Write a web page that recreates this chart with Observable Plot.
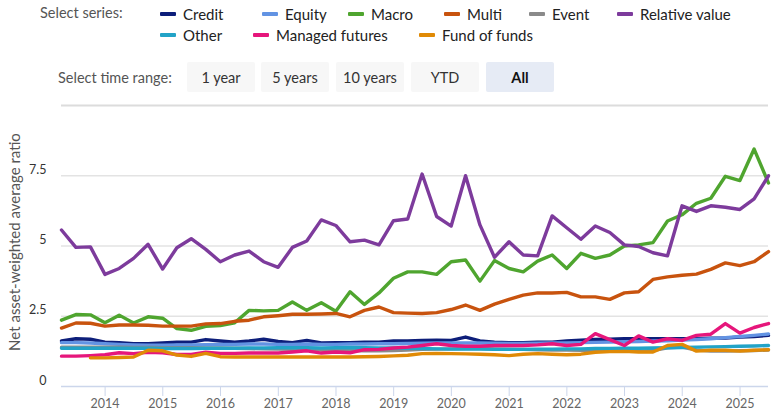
<!DOCTYPE html>
<html><head><meta charset="utf-8">
<script src="https://cdn.jsdelivr.net/npm/d3@7"></script>
<script src="https://cdn.jsdelivr.net/npm/@observablehq/plot@0.6"></script>
<style>
body{margin:0;background:#fff;font-family:Lato,"Noto Sans",sans-serif;}
#wrap{position:relative;width:778px;height:420px;overflow:hidden;}
.lbl{position:absolute;font-size:14.5px;color:#555;white-space:nowrap;transform:translateY(-50%);}
.item{position:absolute;display:flex;align-items:center;font-size:15px;color:#222;white-space:nowrap;transform:translateY(-50%);}
.sw{width:16px;height:4px;border-radius:1px;margin-right:7px;}
.btn{position:absolute;top:62px;height:30px;width:68px;background:#f7f7f7;border-radius:2px;font-size:14.5px;color:#333;display:flex;align-items:center;justify-content:center;}
.btn.sel{background:#e6ebf5;font-weight:bold;color:#111;}
#chart{position:absolute;left:0;top:96px;}
#ytitle{position:absolute;left:14px;top:242px;transform:translate(-50%,-50%) rotate(-90deg);font-size:15px;color:#555;white-space:nowrap;}
</style></head>
<body><div id="wrap"></div>
<script>
const quarters = ["2013-03-31","2013-06-30","2013-09-30","2013-12-31",
"2014-03-31","2014-06-30","2014-09-30","2014-12-31",
"2015-03-31","2015-06-30","2015-09-30","2015-12-31",
"2016-03-31","2016-06-30","2016-09-30","2016-12-31",
"2017-03-31","2017-06-30","2017-09-30","2017-12-31",
"2018-03-31","2018-06-30","2018-09-30","2018-12-31",
"2019-03-31","2019-06-30","2019-09-30","2019-12-31",
"2020-03-31","2020-06-30","2020-09-30","2020-12-31",
"2021-03-31","2021-06-30","2021-09-30","2021-12-31",
"2022-03-31","2022-06-30","2022-09-30","2022-12-31",
"2023-03-31","2023-06-30","2023-09-30","2023-12-31",
"2024-03-31","2024-06-30","2024-09-30","2024-12-31",
"2025-03-31","2025-06-30"];

const seriesNames = ["Credit","Equity","Macro","Multi","Event","Relative value","Other","Managed futures","Fund of funds"];
const seriesColors = ["#0d1e7a","#6293e3","#4fa52f","#c8530e","#8a8a8a","#7d3b9c","#22a3c7","#e6167b","#e08a06"];

const credit = [1.62,1.70,1.68,1.58,1.56,1.52,1.52,1.55,1.58,1.58,1.67,1.62,1.58,
1.62,1.68,1.60,1.56,1.64,1.55,1.56,1.56,1.58,1.58,1.62,1.62,
1.64,1.65,1.64,1.76,1.62,1.58,1.56,1.56,1.58,1.58,1.62,1.65,
1.67,1.68,1.70,1.70,1.70,1.70,1.70,1.70,1.72,1.72,1.76,1.78,1.82];
const equity = [1.56,1.56,1.55,1.52,1.50,1.48,1.47,1.47,1.48,1.48,1.49,1.50,1.50,
1.51,1.51,1.50,1.50,1.51,1.50,1.50,1.51,1.51,1.52,1.52,1.53,
1.54,1.55,1.55,1.55,1.55,1.54,1.53,1.53,1.54,1.55,1.55,1.56,
1.57,1.58,1.59,1.60,1.62,1.63,1.65,1.67,1.70,1.74,1.78,1.82,1.87];
const macro = [2.36,2.56,2.55,2.27,2.54,2.26,2.48,2.43,2.06,2.00,2.14,2.17,2.27,2.71,2.69,2.71,
3.01,2.71,2.98,2.68,3.37,2.92,3.33,3.85,4.08,4.08,3.99,4.44,4.50,3.75,4.48,4.20,
4.08,4.46,4.68,4.20,4.74,4.56,4.68,5.00,5.04,5.12,5.89,6.11,6.52,6.70,7.48,7.33,8.45,7.24];
const multi = [2.08,2.26,2.25,2.15,2.19,2.19,2.18,2.15,2.15,2.15,2.23,2.24,2.32,2.36,2.48,2.52,
2.57,2.57,2.58,2.60,2.48,2.71,2.83,2.63,2.61,2.60,2.63,2.74,2.90,2.71,2.93,3.10,
3.25,3.33,3.33,3.35,3.19,3.19,3.10,3.33,3.37,3.81,3.90,3.96,4.00,4.17,4.40,4.30,4.44,4.80];
const eventD = [1.40,1.40,1.40,1.40,1.40,1.39,1.39,1.38,1.38,1.38,1.37,1.37,1.36,
1.35,1.34,1.33,1.32,1.31,1.30,1.29,1.28,1.27,1.27,1.28,1.30,
1.32,1.33,1.34,1.35,1.35,1.34,1.33,1.32,1.31,1.30,1.30,1.29,
1.28,1.27,1.27,1.26,1.28,1.38,1.40,1.30,1.26,1.26,1.27,1.28,1.30];
const relativeValue = [5.57,4.95,4.97,3.99,4.20,4.56,5.06,4.18,4.94,5.26,
4.88,4.44,4.68,4.82,4.44,4.24,4.95,5.18,5.93,5.73,
5.15,5.21,5.04,5.90,5.96,7.56,6.05,5.71,7.50,5.75,
4.60,5.15,4.68,4.65,6.07,5.65,5.24,5.71,5.48,5.04,
4.98,4.76,4.65,6.43,6.23,6.43,6.38,6.30,6.68,7.50];
const other = [1.36,1.36,1.36,1.36,1.36,1.36,1.36,1.35,1.35,1.35,1.36,1.36,1.36,
1.37,1.37,1.38,1.38,1.38,1.37,1.38,1.39,1.38,1.37,1.37,1.36,
1.35,1.34,1.33,1.33,1.33,1.32,1.32,1.32,1.33,1.33,1.34,1.34,
1.35,1.35,1.36,1.36,1.37,1.38,1.39,1.40,1.41,1.42,1.43,1.44,1.46];
const managedFutures = [1.08,1.08,1.10,1.13,1.20,1.17,1.22,1.20,1.14,1.14,1.22,1.18,1.18,
1.19,1.19,1.19,1.23,1.27,1.19,1.23,1.20,1.31,1.32,1.37,1.40,
1.46,1.52,1.46,1.43,1.43,1.46,1.46,1.46,1.48,1.52,1.46,1.50,
1.88,1.67,1.46,1.80,1.58,1.70,1.64,1.82,1.86,2.24,1.90,2.10,2.24];
const fundOfFunds = [null,null,1.02,1.02,1.03,1.05,1.29,1.27,1.12,1.07,1.18,1.06,1.05,
1.05,1.05,1.05,1.05,1.05,1.05,1.05,1.05,1.06,1.07,1.09,1.11,
1.17,1.18,1.17,1.16,1.15,1.13,1.10,1.15,1.17,1.15,1.13,1.15,
1.22,1.24,1.25,1.23,1.23,1.46,1.50,1.26,1.29,1.29,1.26,1.29,1.31];

const yTicks = [0, 2.5, 5, 7.5];
const yGrid = [2.5, 5, 7.5];
const yTop = 10;
const xTickYears = ["2014","2015","2016","2017","2018","2019","2020","2021","2022","2023","2024","2025"];
const timeRanges = ["1 year","5 years","10 years","YTD","All"];

const allValues = [credit, equity, macro, multi, eventD, relativeValue, other, managedFutures, fundOfFunds];
const dates = quarters.map(s => new Date(s + "T00:00:00Z"));
const tables = allValues.map((vals, k) => vals.map((v, i) => ({date: dates[i], value: v, series: seriesNames[k]})));

// Layout (HTML controls)
const wrap = document.getElementById("wrap");
const legendPos = [[160,14],[262,14],[348,14],[444,14],[529,14],[617,14],[160,35],[253,35],[419,35]];
wrap.insertAdjacentHTML("beforeend", `<div class="lbl" style="left:40px;top:12px">Select series:</div>`);
seriesNames.forEach((n, k) => {
  const [l, t] = legendPos[k];
  wrap.insertAdjacentHTML("beforeend", `<div class="item" style="left:${l}px;top:${t}px"><span class="sw" style="background:${seriesColors[k]}"></span>${n}</div>`);
});
wrap.insertAdjacentHTML("beforeend", `<div class="lbl" style="left:58px;top:77px">Select time range:</div>`);
const btnLeft = [187, 261, 336, 411, 486];
timeRanges.forEach((r, k) => {
  wrap.insertAdjacentHTML("beforeend", `<div class="btn${r === "All" ? " sel" : ""}" style="left:${btnLeft[k]}px">${r}</div>`);
});
wrap.insertAdjacentHTML("beforeend", `<div id="ytitle">Net asset-weighted average ratio</div>`);

const chart = Plot.plot({
  width: 778,
  height: 324,
  marginLeft: 61,
  marginRight: 10,
  marginTop: 9,
  marginBottom: 34,
  style: {fontFamily: "Lato, 'Noto Sans', sans-serif", fontSize: "12px", background: "transparent", overflow: "visible"},
  x: {type: "utc", domain: [dates[0], dates[dates.length - 1]]},
  y: {domain: [0, yTop]},
  marks: [
    Plot.ruleY(yGrid, {stroke: "#e3e3e3", strokeWidth: 1.5}),
    Plot.ruleY([yTop], {stroke: "#dcdcdc", strokeWidth: 2}),
    Plot.axisY(yTicks, {tickSize: 0, tickPadding: 15, dy: -6, fill: "#333", fontSize: 12.5, label: null, tickFormat: d => String(d)}),
    Plot.ruleY([0], {stroke: "#ccd6eb", strokeWidth: 1.5}),
    Plot.axisX(xTickYears.map(y => new Date(y + "-01-01T00:00:00Z")), {
      tickSize: 10, tickPadding: 3, stroke: "#ccd6eb", fill: "#666", fontSize: 12.5,
      tickFormat: d3.utcFormat("%Y"), label: null
    }),
    ...tables.map((t, k) => Plot.line(t, {x: "date", y: "value", stroke: seriesColors[k], strokeWidth: 3.4, curve: "linear"}))
  ]
});
chart.id = "chart";
wrap.appendChild(chart);
</script>
</body></html>
